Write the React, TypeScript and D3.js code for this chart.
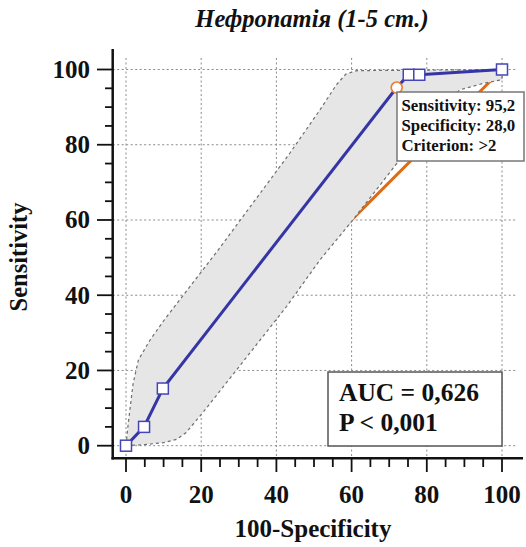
import React from "react";
import * as d3 from "d3";

const rocX = [0, 4.8, 9.8, 72, 75.2, 78, 100];
const rocY = [0, 5, 15.2, 95.2, 98.6, 98.6, 100];
const selectedIndex = 3;

const upperX = [0, 0.6, 1.9, 3.3, 6.4, 10, 24.5, 43.6, 51.6, 56, 58.5, 61.4, 100];
const upperY = [0, 6, 16.6, 22.8, 28.1, 33.2, 52, 77.8, 89.3, 96, 98.8, 99.7, 100];
const lowerX = [0, 5, 10, 13.5, 16, 20.6, 30, 42.7, 51.6, 60, 72.4, 80, 85, 88.8, 95, 100, 100];
const lowerY = [0, 0.3, 0.8, 1.7, 3.5, 9, 20.9, 37, 49.4, 59.6, 75.5, 85, 91, 94.6, 96.3, 97.3, 100];

const majorTicks = [0, 20, 40, 60, 80, 100];
const minorTicks = d3.range(0, 101, 5);

const title = "Нефропатія (1-5 ст.)";
const xTitle = "100-Specificity";
const yTitle = "Sensitivity";
const tooltipLines = ["Sensitivity: 95,2", "Specificity: 28,0", "Criterion: >2"];
const statLines = ["AUC = 0,626", "P < 0,001"];

const FONT = "'Liberation Serif', 'Times New Roman', serif";

export default function App() {
  const x = d3.scaleLinear().domain([0, 100]).range([126, 502]);
  const y = d3.scaleLinear().domain([0, 100]).range([445.7, 69.5]);

  const line = d3
    .line<[number, number]>()
    .x((d) => x(d[0]))
    .y((d) => y(d[1]));

  const upper: [number, number][] = upperX.map((v, i) => [v, upperY[i]]);
  const lower: [number, number][] = lowerX.map((v, i) => [v, lowerY[i]]);
  const roc: [number, number][] = rocX.map((v, i) => [v, rocY[i]]);
  const bandPoly: [number, number][] = [...upper, ...lower.slice().reverse()];

  const axisX0 = 112.7;
  const axisY0 = 458.3;

  return (
    <svg
      width={526}
      height={547}
      style={{ position: "absolute", left: 0, top: 0, background: "#fff" }}
      fontFamily={FONT}
    >
      <rect x={0} y={0} width={526} height={547} fill="#fff" />
      {/* grid */}
      <g stroke="#8a8a8a" strokeWidth={1} strokeDasharray="2,2.5">
        {majorTicks.map((t) => (
          <line key={"gh" + t} x1={axisX0} x2={517} y1={y(t)} y2={y(t)} />
        ))}
        {majorTicks.map((t) => (
          <line key={"gv" + t} x1={x(t)} x2={x(t)} y1={58} y2={456} />
        ))}
      </g>
      {/* diagonal reference */}
      <line
        x1={x(0)}
        y1={y(0)}
        x2={x(100)}
        y2={y(100)}
        stroke="#e2690f"
        strokeWidth={3}
      />
      {/* confidence band */}
      <path d={line(bandPoly) + "Z"} fill="#e6e6e6" stroke="none" />
      <path d={line(upper) || ""} fill="none" stroke="#6e6e6e" strokeWidth={1.2} strokeDasharray="3,3" />
      <path d={line(lower) || ""} fill="none" stroke="#6e6e6e" strokeWidth={1.2} strokeDasharray="3,3" />
      {/* ROC curve */}
      <path d={line(roc) || ""} fill="none" stroke="#3535a5" strokeWidth={3} />
      {roc.map((d, i) =>
        i === selectedIndex ? (
          <circle
            key={i}
            cx={x(d[0])}
            cy={y(d[1])}
            r={5.5}
            fill="#fff"
            stroke="#ef7a2a"
            strokeWidth={1.6}
          />
        ) : (
          <rect
            key={i}
            x={x(d[0]) - 5.5}
            y={y(d[1]) - 5.5}
            width={11}
            height={11}
            fill="#fff"
            stroke="#4545b8"
            strokeWidth={1.5}
          />
        )
      )}
      {/* tooltip */}
      <rect x={397} y={92} width={127} height={69} fill="#fff" stroke="#777" strokeWidth={1.5} />
      {tooltipLines.map((t, i) => (
        <text key={t} x={401.5} y={111 + i * 20} fontSize={16.8} fontWeight="bold" fill="#111">
          {t}
        </text>
      ))}
      {/* AUC box */}
      <rect x={328} y={372} width={174} height={74} fill="#fff" stroke="#555" strokeWidth={1.5} />
      {statLines.map((t, i) => (
        <text key={t} x={339} y={401 + i * 29.5} fontSize={25.5} fontWeight="bold" fill="#111">
          {t}
        </text>
      ))}
      {/* axes */}
      <g stroke="#111" strokeWidth={2.5} fill="none">
        <line x1={axisX0} x2={axisX0} y1={49} y2={axisY0 + 1.2} />
        <line x1={axisX0 - 1.2} x2={523} y1={axisY0} y2={axisY0} />
      </g>
      <g stroke="#111" strokeWidth={1.8}>
        {minorTicks.map((t) => {
          const major = t % 20 === 0;
          return (
            <line
              key={"yt" + t}
              x1={major ? 97 : 105}
              x2={axisX0}
              y1={y(t)}
              y2={y(t)}
            />
          );
        })}
        {minorTicks.map((t) => {
          const major = t % 20 === 0;
          return (
            <line
              key={"xt" + t}
              x1={x(t)}
              x2={x(t)}
              y1={axisY0}
              y2={major ? 472 : 467}
            />
          );
        })}
      </g>
      <g fontSize={25} fontWeight="bold" fill="#111">
        {majorTicks.map((t) => (
          <text key={"yl" + t} x={90} y={y(t)} dy="0.34em" textAnchor="end">
            {t}
          </text>
        ))}
        {majorTicks.map((t) => (
          <text key={"xl" + t} x={x(t)} y={502.5} textAnchor="middle">
            {t}
          </text>
        ))}
      </g>
      <text x={313} y={536.5} fontSize={25} fontWeight="bold" textAnchor="middle" fill="#111">
        {xTitle}
      </text>
      <text
        transform={`translate(27,257) rotate(-90)`}
        fontSize={24.5}
        fontWeight="bold"
        textAnchor="middle"
        fill="#111"
      >
        {yTitle}
      </text>
      <text
        x={312}
        y={27}
        fontSize={24.5}
        fontWeight="bold"
        fontStyle="italic"
        textAnchor="middle"
        fill="#111"
      >
        {title}
      </text>
    </svg>
  );
}
